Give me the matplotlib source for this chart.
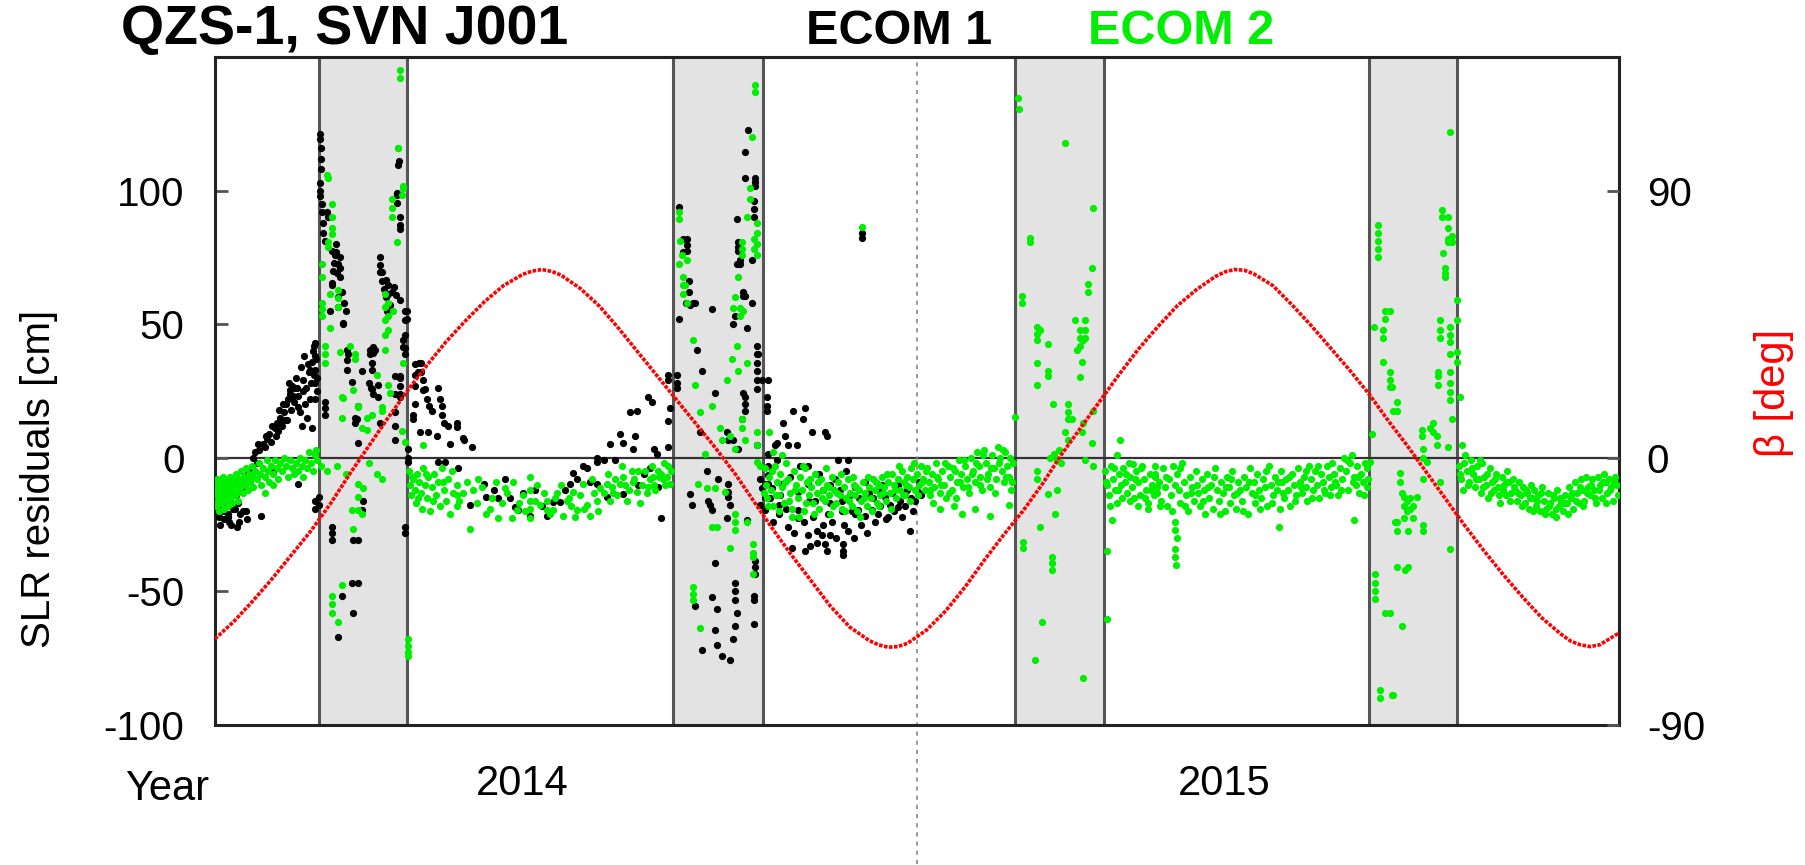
import matplotlib
matplotlib.use("Agg")
import matplotlib.pyplot as plt
import numpy as np

plt.rcParams['font.family'] = ['Liberation Sans', 'DejaVu Sans']

# x axis: days since 2014-01-01
x_range = (0, 730)
year_label_days = [160, 525]
year_labels = ['2014', '2015']
year_boundary_day = 365

left_ticks = [-100, -50, 0, 50, 100]
right_ticks = [-90, 0, 90]

# eclipse seasons (shaded)
eclipse_start = [54, 238, 416, 600]
eclipse_end = [100, 285, 462, 646]

# beta angle (deg)
beta_day = [0, 10, 20, 30, 40, 50, 60, 70, 80, 90, 100, 110, 120, 130, 140, 150, 160, 165, 170, 175,
            180, 190, 200, 210, 220, 230, 240, 250, 260, 270, 280, 290, 300, 310, 320, 330, 340, 345,
            350, 355, 360, 370, 380, 390, 400, 410, 420, 430, 440, 450, 460, 470, 480, 490, 500, 510,
            520, 525, 530, 535, 540, 550, 560, 570, 580, 590, 600, 610, 620, 630, 640, 650, 660, 670,
            680, 690, 700, 705, 710, 715, 720, 730]
beta_deg = [-61, -55, -48, -40.5, -32.5, -24.5, -15.5, -5.5, 4, 13.5, 22.5, 31, 39, 46, 52.5, 58, 61.8,
            62.9, 63.4, 62.8, 61.5, 57, 51, 43.5, 35.5, 27.5, 19.5, 11.5, 3.5, -5, -14.5, -24, -33,
            -41.5, -50, -57, -61.5, -63, -63.8, -63.6, -62.5, -58, -51.5, -43.5, -34.5, -26, -18, -9,
            1, 10, 19, 28, 36.5, 44, 51, 56.5, 61, 62.6, 63.4, 63.2, 62, 58, 51.5, 44.5, 37, 29.5,
            21.5, 12.5, 4, -5, -14, -23, -31.5, -39.5, -47, -54, -59.5, -61.8, -63, -63.6, -63, -59]

# ECOM 1 residuals (cm): (day, residual)
ecom1_seg1 = [(0.5,-10),(1,-14),(1.5,-18),(2,-22),(3,-12),(3.5,-16),(4,-20),(5,-8),(5.5,-13),(6,-18),
              (7,-22),(7.5,-24),(8,-15),(9,-11),(9.5,-19),(10,-9),(11,-14),(12,-17),(13,-21),(14,-12),
              (15,-10),(16,-20),(16.5,-23),(17,-6),(18,-9),(19,-4),(20,0),(21,2),(22,-2),(23,3),
              (24,-21.8),(25,5),(26,4),(27,7),(28,9),(29,6),(30,-5),(31,11),(32,13),(33,10),
              (34,15),(34,13),(35,12),(36,17),(37,20),(37.5,14),(38,22),(39,24),(39,25.5),(39.5,18),(40,27),
              (41,21),(41.5,26),(42,30),(43,-9.7),(43,19),(43,23),(44,17),(45,12),(45.5,25),(46,29),
              (47,20),(48,15),(48.5,35),(49,32),(49.4,33),(50,28),(50.5,11),(51,40),(51.5,42),(52,-16),
              (52,-19),(52.5,37),(52,43),(52,38),(52,33),(52,28),(52,22),(53,30),(53,25),
              (0.8,-20),(2.5,-25),(4.5,-23),(6.5,-21),(8.5,-25),(10.5,-19),(12.5,-24),(14.5,-20),(11.5,-26),
              (22.5,5),(26.5,8),(29.5,12),(31.5,8),(33.5,18),(35.5,20),(36.5,14),(38.5,28),(40.5,23),
              (42.5,26),(44.5,34),(46.5,38),(47.5,26),(49.5,22),(50.5,36),(51.5,31)]
ecom1_ecl1 = [(54.6,119.4),(54.6,121),(54.6,103),(54.6,100),(54.6,98),(54,-14.5),(54,-17.7),
              (55,116),(55,112),(55,108),(55.5,95),(55.5,92),(56,88),(56,84),(57,81),
              (58,92),(58.9,90.3),(60.7,77.4),(62.4,75.8),(63,80),(63,77),(64.1,72.6),(65,75),(65,71),(65,67.7),
              (61.5,70),(62,73),(63.5,69),(66,62),(67,58),(68,55),
              (61,65.5),(60.7,64.5),(64,60),(64,56.5),(59.8,54.8),(66.5,50.6),(66.7,50),(69.3,38.7),
              (68.6,40.4),(68.6,36.5),(68.6,33),(71.1,28.2),(72.8,15),(72.8,13),(73.7,14.5),(74.5,5.6),
              (71.9,-30.6),(74.5,-30.6),(71.1,-46.8),(74.5,-46.8),(71.9,-58.1),(64.1,-67),(65.9,-51.6),
              (60.7,-25.8),(60.7,-28),(60.7,-30.6),(57.2,21),(57.2,18.5),(57.2,16.1),
              (80,28),(81,26),(82,24),(81.6,35.6),(81.6,33),(82,41.6),(82,39.3),(86,13),(87,69.7),
              (86,75),(86,72),(87,66),(88,63),(89,60),(91,57),(93,64),(94,61),
              (85.8,69.4),(89,66.7),(90.1,64.5),(92,62),(90.1,61.3),(96,59),(89.3,54.8),
              (95.3,109.7),(95.7,111),(94.5,98.4),(94.5,95.2),(94.6,99),(96.2,90.3),(96.2,87),(96.2,85.5),
              (93.6,30.6),(93.6,24),(93.6,17),(93.6,12),(93.6,6.5),(96.2,30.6),(96.2,27),(96.2,22.6),
              (96,30),(96,24),(98.8,54.8),(98.8,51.6),(98.8,46),(98.8,41),(98.8,38.7),(98,44),(98,41.6),
              (100,55),(100,52),(98.8,-25.8),(98.8,-28),(100.5,3.2),(100.5,0),(100.5,-1.6),
              (84.9,27.4),(84.9,22.6),(80.6,40.3),(80.6,38.7),(83.2,40.3),(81.5,25.8),(76.3,32.3),
              (77.1,-16.1),(76.3,-19.4),(74.5,19.4)]
ecom1_seg2 = [(104,35),(104,31),(104,27),(105.7,32),(106,35.6),(107.3,35.5),(107.3,32),(108,29),(108,25.5),
              (109,25.8),(110,22),(111.5,19.4),(112.6,17.7),(116,26),(117,22),(118,19.4),(117.8,16),
              (119,12.9),(115.3,8.1),(111,9.7),(106.6,9.7),(103,16),(103,14.5),(104,20),(116,-1.6),
              (119.6,-1.6),(122,5),(121,12),(125.7,12.9),(125.7,11.5),(129,7.3),(129.5,6.5),(133.5,4),
              (126.5,-4),(132.6,-17.7),(140,-9.7),(141,-14.5),(147.3,-15),(150.8,-8),(153.4,-15),
              (156,-18.5),(157.7,-19.4),(163.8,-21.8),(166.4,-12),(172.5,-21.8),(176,-16.5),(179.4,-16.5),
              (182,-12),(184.6,-9.7),(186.3,-5.6),(188,-8),(191.5,-3),(193.3,-4),(198.5,0),(198.5,-1.6),
              (202,-1),(205.4,5),(208,-1),(210.6,9),(212.3,5.6),(215.8,17),(219.3,17.7),(218.4,8),
              (217.5,3.2),(225.3,22.6),(227,21),(228,3.2),(229.6,1.6),(226.2,-4),(230.5,-11),(232,-22.6),
              (235.7,4),(235.7,13.7),(236.6,18.5),(235.7,31),(235.7,29),(203.7,-14.5),(198.5,-9.7),
              (212.3,-13.7),(160,-13),(170,-18),(145,-12),(195,-9),(220,-10),(223,-6)]
ecom1_ecl2 = [(240,31),(240,28),(240,26),(241,52),(241,94),(243.5,82),(243.5,77),(245,58),
              (245.3,82),(245.3,79.5),(245.3,77.4),(246.5,66),(246.5,62),(247,57),(249.6,58),(248.7,58),
              (258.3,55.6),(250.5,40.3),(253.1,32.3),(260,24.2),(252.2,9.7),(266,9.7),(266.9,6.5),
              (255.7,-4.8),(256.5,-16.1),(257.4,-17.7),(258.3,-19.4),(247,-13.7),(247.9,-17.7),
              (261.7,-8.1),(266.9,-9.7),(266.9,-12.9),(266.9,-14.5),(267.8,-17.7),(266,-22.6),
              (276.5,-23.4),(260,-39.5),(249.6,-55.6),(260.9,-56.5),(260,-64.5),(260.9,-70),(253.1,-71.8),
              (263.5,-74.2),(267.8,-75.8),(269.5,-67.7),(270.4,-62.9),(270.4,-46.8),(270.4,-50),
              (270.4,-53.2),(271.3,-58.1),(258.3,-52),(280,-51.6),(280,-53.2),(280,-62.1),(280.8,-38.7),
              (280.8,-41),(280.8,-43.5),(273,74.2),(273,72.6),(274.7,62.1),(274.7,60.5),(275.6,60.5),
              (279.1,58.1),(276.5,48.4),(275.6,104.8),(277.3,122.6),(275.6,114.5),(280.8,104.8),
              (280.8,103.2),(280.8,101.6),(280,96),(280,93),(280,90.3),(279,74.2),(271.3,89.5),
              (272.1,80.6),(272.1,79),(272.1,77.4),(271.3,72.6),(269.5,50),(270.4,53.2),(274.7,24.2),
              (275.6,22.6),(275.6,20),(275.6,17.7),(273.9,14.5),(269.5,6.5),(272.1,3.2),(281.7,41.9),
              (281.7,38.7),(281.7,35.5),(281.7,32.3),(281.7,29),(281.7,25.8),(282.5,38.7),(284.3,29),
              (281.7,4.8),(283.4,-8.1),(284.3,-11.3),(283.4,-17.7)]
ecom1_seg3 = [(287.7,29),(286.9,22.6),(286.9,19.4),(286.9,17.7),(295.5,12.9),(292.1,5.6),(300.7,17.7),
              (306.8,18.5),(305.9,14.5),(310.3,9.7),(317.1,9.7),(318,8.1),(296.4,8.1),(298.1,4.8),
              (302.5,4.8),(291.2,4.8),(287.7,1.6),(287.7,-3.2),(287.7,-6.5),(287.7,-9.7),(286,-9.7),
              (286,-14.5),(286,-19.4),(289.5,-11.3),(293,-17.7),(293,-21),(294.7,-9.7),(299.9,-33.9),
              (298.1,-25.8),(303.3,-12.9),(303.3,-19.4),(303.3,-22.6),(308.5,-3.2),(308.5,-9.7),
              (308.5,-29),(309.4,-33),(312.9,-27.4),(315.5,-29),(317.2,-32.3),(319.8,-29),(318.9,-21),
              (322.4,-8.1),(324.1,-0.8),(325.9,-16.1),(325.9,-20),(326.7,-32.3),(326.7,-34.7),
              (326.7,-36.3),(329.3,-0.8),(329.3,-27.4),(331,-20),(332.8,-21),(334.5,-19.4),(338,-21.8),
              (341.4,-19.4),(344.9,-21),(348.4,-14.5),(351,-17.7),(355.3,-18.5),(358.8,-12.9),
              (361.4,-27.4),(364,-16.1),(365.7,-12.9),(312,-16),(316,-12),(320,-10),(335,-15),
              (340,-13),(345,-12),(350,-22),(355,-10),(360,-12),(336.2,82.3),(336.2,84),
              (288.5,-15),(290,-24),(292,-1),(294,-14),(297,-19),(299,-7),(301,-28),(304,-3),(306,-24),
              (307,-35),(309,-16),(311,-22),(313,-32),(314,-6),(316,-25),(318,-35),(320,-17),(321,-24),
              (323,-30),(325,-12),(327,-25),(328,-5),(330,-14),(332,-30),(333,-11),(336,-25),(338,-9),
              (339,-28),(342,-15),(343,-24),(346,-18),(347,-10),(349,-23),(352,-13),(353,-20),(356,-16),
              (357,-22),(359,-18),(362,-15),(363,-20),(366,-9),(367,-14)]

# ECOM 2 residuals (cm): (day, residual)
ecom2_seg1 = [(0.3,-10),(0.3,-14),(0.5,-18),(1,-8),(1,-12),(1.5,-16),(2,-20),(2,-11),(2.5,-14),(3,-9),
              (3,-17),(3.5,-12),(4,-7),(4,-15),(4.5,-19),(5,-10),(5,-13),(5.5,-16),(6,-8),(6,-11),
              (6.5,-14),(7,-18),(7,-9),(7.5,-12),(8,-15),(8,-7),(8.5,-10),(9,-13),(9,-17),(9.5,-8),
              (10,-11),(10.5,-14),(11,-6),(11,-10),(11.5,-13),(12,-16),(12.5,-8),(13,-11),(13.5,-5),
              (14,-9),(14.5,-13),(15,-7),(15.5,-10),(16,-4),(16.5,-8),(17,-12),(17.5,-6),(18,-9),
              (19,-3),(19.5,-7),(20,-11),(21,-5),(22,-8),(23,-2),(23.5,-6),(24,-10),(25,-4),(26,-7),
              (26,-13),(27,-1),(27.5,-5),(28,-9),(29,-3),(30,-6),(30,-10),(31,-1),(32,-4),(33,-8),
              (34,-2),(35,-5),(36,0),(37,-3),(38,-7),(39,-1),(40,-4),(41,-6),(42,-2),(43,-5),(44,0),
              (45,-3),(46,-7),(47,-1),(48,-4),(49,2),(50,-2),(51,-5),(52,1),(52.5,3),(53,-1)]
ecom2_ecl1 = [(96.2,145),(96.2,142),(95.3,116.1),(95,116),(97.9,101.6),(98,101),(91.9,97),(91.9,93.5),
              (91.9,90.3),(94.5,80.6),(97,98.4),(58.9,104.8),(58,106),(60.7,95),(60.7,90),(60.7,86),
              (60.7,83.9),(58.9,80.6),(58.9,79),(55.5,72.6),(55.5,67.7),(59.8,61.3),(55.5,58.1),
              (55.5,55.6),(55.5,53.2),(59.8,48.4),(64.1,62.9),(64.1,59.7),(64.1,56.5),(57.2,41.9),
              (57.2,38.7),(57.2,35.5),(65,39.5),(70.2,41.9),(72.6,39),(72.6,37),(66.6,22.5),(71.8,25.5),
              (74.4,19),(79,15),(79,10.5),(84,31),(87,19),(65.9,22.6),(65.9,15),(74.5,19.4),(76.3,11.3),
              (81.5,16.1),(86.7,17.7),(88.4,61.3),(88.4,56.5),(88.4,51.6),(88.4,46),(88.4,40.3),
              (90.1,58),(90.1,53),(90.1,48),(92.7,54.8),(90.1,27.4),(91,24.2),(63.3,-3.2),(71.1,-19.4),
              (74.5,-9.7),(74.5,-14.5),(74.5,-19.4),(76.3,-21),(77.1,-11.3),(71.9,-26.6),(60.7,-51.6),
              (60.7,-54.8),(60.7,-58.1),(64.1,-61.3),(65.9,-47.6),(100.5,-68),(100.5,-70.5),
              (100.5,-72.5),(100.5,-74.2),(55,-3),(58,-5),(68,-6),(80,-2),(84,-6),(87,-8),(97,10),
              (99,6),(98,35.6)]
ecom2_seg2 = [(101,-5),(101.5,-10),(102,-14),(103,-8),(104,-12),(104.5,-17),(105,-6),(106,-9),(107,-13),
              (107.5,-19),(108,-4),(108.3,4.8),(109,-10),(110,-15),(111,-7),(112,-20),(113,-11),(114,-6),
              (115,-14),(116,-9),(117,-18),(118,-4),(119,-12),(120,-16),(121,-8),(122,-21),(123,-5),
              (124,-13),(125.7,-10),(125.7,-14),(125.7,-18),(129,-13),(132.6,-26.6),(134.3,-12),
              (141,-21),(147.3,-22.6),(150.8,-11.3),(154.3,-22.6),(156.9,-19.4),(163.8,-7),(163.8,-12),
              (163.8,-16),(163.8,-19),(163.8,-22.6),(166.4,-16.1),(169,-17.7),(172.5,-16),(172.5,-19.4),
              (176,-19.4),(181.2,-21.8),(182.9,-16.1),(186.3,-12.9),(188,-19.4),(191.5,-9.7),
              (193.3,-17.7),(195,-21.8),(198.5,-16.1),(200.2,-11.3),(203.7,-9.7),(205.4,-16.1),
              (208,-8),(210.6,-9.7),(212.3,-7),(214,-16.1),(216.7,-4.8),(219.3,-12.9),(221,-17),
              (223.6,-4.8),(226.2,-8),(227.9,-7),(230.5,-4.8),(233.1,-8),(235.7,-3.2),(236.6,-9.7),
              (137,-8),(144,-15),(160,-14),(178,-13),(185,-18),(197,-13),(207,-13),(218,-8),(225,-11),
              (229,-12),(232,-6),(234,-10),
              (102.5,-7),(105.5,-15),(109.5,-6),(113.5,-16),(118.5,-9),(127,-16),(131,-9),(136,-17),
              (139,-11),(143,-19),(146,-9),(149,-17),(152,-13),(155,-9),(158,-17),(161,-20),(167.5,-10),
              (171,-13),(174,-21),(177,-15),(180,-10),(184,-15),(187,-22),(190,-14),(192,-19),(196,-8),
              (199,-20),(202,-13),(204.5,-6),(206.5,-11),(209,-14),(211.5,-3),(213,-10),(215,-12),
              (217.5,-9),(220,-5),(222,-10),(224.5,-13),(227,-3),(228.5,-10),(231,-7),(233.5,-2),
              (235,-7),(237,-5)]
ecom2_ecl2 = [(241,92),(241,89.5),(241,72.6),(243.5,67.7),(243.5,64.5),(243.5,61.3),(245.3,58),
              (242,81),(243,76),(280.8,139.5),(280.8,137),(279.1,120),(278.2,101),(278.2,97),
              (276.5,90.3),(281.7,88),(281.7,84),(281.7,80),(281.7,76),(280,82),(280,78),(273.9,80.6),
              (273.9,78),(273.9,76),(272.1,67.7),(270.4,60.3),(273,56),(273,53),(274.7,54.8),(269.5,56),
              (268.7,37.1),(272.1,32.3),(276.5,35.5),(271.3,42),(266,29),(249.6,27.4),(248.7,44),
              (244.4,64.5),(245.3,74.2),(252.2,17),(258.3,19.4),(262.6,11.3),(263.5,6.5),(267.8,8.1),
              (270.4,3.2),(273.9,11),(273.9,14.5),(275.6,6.5),(281.7,9.7),(281.7,4.8),(281.7,-1.6),
              (283.4,-3.2),(254.8,1.6),(251.3,-9.7),(255.7,-11.3),(260,-11.3),(258.3,-25.8),
              (260.9,-25.8),(265.2,-12.9),(270.4,-21),(270.4,-24),(270.4,-27),(267.8,-33.9),
              (276.5,-24.2),(279.9,-32.3),(279.9,-35.5),(279.9,-37.1),(279.9,-43.5),(248.7,-48.4),
              (248.7,-51),(248.7,-53.2),(252.2,-63.7)]
ecom2_seg3 = [(286,-4),(286.5,-10),(287,-15),(288,-7),(288,9.7),(289,-12),(290,-18),(290,2),(291,-3),
              (292,-9),(293,-14),(294,-6),(295,-11),(295,1),(296,-17),(297,-2),(298,-8),(299,-13),
              (300,-19),(300,-22),(301,-5),(302,-10),(303,-15),(304,-7),(305,-12),(306,-20),(307,-4),
              (308,-9),(309,-14),(310,-11),(311,-17),(312,-6),(313,-13),(314,-19),(315,-8),(316,-12),
              (317,-16),(318,-10),(319,-14),(320,-21),(321,-7),(322,-12),(323,-17),(324,-9),(325,-14),
              (326,-19),(327,-11),(328,-15),(329,-8),(330,-13),(331,-18),(332,-10),(333,-14),(334,-20),
              (335,-12),(336,-16),(336.2,86.5),(337,-9),(338,-13),(339,-18),(340,-11),(341,-15),(342,-8),
              (343,-12),(344,-17),(345,-10),(346,-14),(347,-7),(348,-11),(349,-16),(350,-9),(351,-13),
              (352,-6),(353,-10),(354,-15),(355,-8),(356,-12),(357,-5),(358,-9),(359,-14),(360,-7),
              (361,-11),(362,-4),(363,-8),(364,-12),(365,-6),(366,-10),(367,-3),(368,-8),(369,-12),
              (370,-4),(371,-9),(372,-14),(373,-6),(374,-11),(375,-2),(376,-8),(377,-13),(377,-19),
              (378,-5),(379,-10),(380,-15),(381,-3),(382,-7),(383,-12),(384,-18),(385,-5),(386,-9),
              (387,-1),(388,-6),(388.3,-21),(389,-11),(390,-3),(391,-8),(392,-13),(393,0),(394,-5),
              (395,-9),(395,-19),(396,2),(397,-3),(398,-7),(399,-12),(400,3),(401,-2),(402,-6),
              (403,-11),(403,-21.8),(404,1),(405,-4),(406,-8),(407,4),(408,0),(409,-5),(410,-9),
              (411,2),(412,-3),(412.6,-17.7),(413,-7),(414,-12),(415,-2),
              (285.5,-13),(287.5,-18),(289.5,-5),(291.5,-14),(293.5,-20),(296.5,-9),(298.5,-16),
              (301.5,-12),(303.5,-22),(305.5,-3),(307.5,-17),(309.5,-8),(311.5,-21),(313.5,-9),
              (315.5,-15),(317.5,-4),(319.5,-11),(321.5,-18),(323.5,-13),(325.5,-6),(327.5,-20),
              (329.5,-16),(331.5,-7),(333.5,-11),(335.5,-22),(337.5,-15),(339.5,-7),(341.5,-20),
              (343.5,-9),(345.5,-18),(347.5,-13),(349.5,-6),(351.5,-19),(353.5,-12),(355.5,-3),
              (357.5,-14),(359.5,-10),(361.5,-16),(363.5,-2),(365.5,-14),(367.5,-9),(369.5,-5),
              (371.5,-12),(373.5,-17),(375.5,-7),(377.5,-10),(379.5,-2),(381.5,-13),(383.5,-4),
              (385.5,-15),(387.5,-9),(389.5,-1),(391.5,-11),(393.5,-6),(395.5,-2),(397.5,-10),
              (399.5,1),(401.5,-8),(403.5,-4),(405.5,-13),(407.5,-2),(409.5,3),(411.5,-7),(413.5,0),
              (414.5,-9)]
ecom2_ecl3 = [(417.7,134.7),(418.2,130.6),(442,117.7),(456.7,93.5),(423.8,82.3),(423.8,80.6),
              (419.5,60.5),(419.5,58),(455.9,71),(454.1,65),(454.1,62),(427.3,49),(427.3,46.5),
              (427.3,44),(429,48),(433.3,42.7),(447.2,51.6),(452.4,51.6),(452.4,48),(452.4,45),
              (449.8,48),(449.8,45),(449.8,42),(451.5,44),(448,40.3),(450.7,36),(449.8,30.2),
              (433.3,32.3),(433.3,30.6),(427.3,35.5),(427.3,27.4),(435.9,20),(443.7,20),(443.7,17),
              (443.7,14.5),(445.5,14.5),(456.7,17.7),(450.7,9.7),(451.5,12.9),(442,9.7),(443.7,6.5),
              (455.9,5.6),(452.4,-0.8),(456.7,-3.2),(415.9,15.3),(427.3,-4.8),(427.3,-8.1),
              (433.3,-13.7),(437.6,-12),(436.8,-21),(429,-25.8),(420.3,-31.5),(420.3,-33.9),
              (435,-37.1),(435,-39.5),(435,-41.9),(429.9,-61.3),(426.4,-75.8),(451.5,-82.3),
              (463.7,-34.7),(463.7,-60.5),(466.3,-23.4),(470.6,6.5),(468.9,1),(434,0),(436,1.5),
              (438,-1),(439,3),(440,-2)]
ecom2_seg4 = [(463,-5),(464,-10),(465,-14),(466,-3),(467,-8),(468,-12),(469,-17),(470,-6),(471,-10),
              (472,-4),(473,-9),(474,-13),(475,-2),(476,-7),(477,-11),(477.5,-2.4),(478,-15),(479,-5),
              (480,-9),(480,-18),(481,-14),(482,-3),(483,-8),(484,-12),(485,-17),(485,-19),(486,-6),
              (487,-10),(488,-14),(489,-7),(490,-11),(489,-6),(490,-13),(491,-9),(492,-16),(493,-4),
              (494,-11),(495,-18),(496,-8),(497,-14),(498,-3),(499,-10),(499.3,-24),(499.3,-27),
              (500,-30),(499,-34),(499,-37),(499.5,-40),(500,-6),(501,-12),(502,-17),(503,-2),(504,-9),
              (505,-14),(506,-20),(507,-7),(508,-11),(509,-16),(510,-5),(511,-13),(512,-18),(513,-8),
              (514,-12),(515,-21),(516,-6),(517,-15),(518,-10),(519,-19),(520,-4),(521,-12),(522,-16),
              (523,-9),(524,-13),(525,-20),(526,-7),(527,-11),(528,-17),(529,-5),(530,-14),(531,-19),
              (532,-9),(533,-12),(534,-16),(535,-7),(536,-11),(537,-21),(538,-4),(539,-13),(540,-9),
              (541,-17),(542,-6),(543,-12),(544,-15),(545,-8),(546,-11),(547,-18),(548,-3),(549,-10),
              (550,-14),(551,-7),(552,-12),(553,-26),(553.5,-19),(554,-5),(555,-9),(556,-15),(557,-8),
              (558,-12),(559,-18),(560,-6),(561,-10),(562,-14),(563,-4),(564,-9),(565,-13),(566,-7),
              (567,-11),(568,-16),(569,-3),(570,-8),(571,-12),(572,-5),(573,-10),(574,-15),(575,-6),
              (576,-9),(577,-13),(578,-3),(579,-7),(580,-11),(581,-2),(582,-6),(583,-10),(584,-14),
              (585,-4),(586,-8),(587,0),(588,-5),(589,-12),(590,-2),(591,1),(592,-23.4),(592,-7),
              (593,-10),(594,-3),(595,-13),(596,-6),(597,-9),(598,-2),(599,-11),
              (463.5,-9),(465.5,-18),(467.5,-4),(469.5,-12),(471.5,-15),(473.5,-6),(475.5,-16),
              (478.5,-8),(481.5,-4),(483.5,-15),(486.5,-12),(488.5,-3),(491.5,-18),(494.5,-7),
              (497.5,-20),(501.5,-4),(504.5,-18),(507.5,-13),(510.5,-10),(513.5,-16),(516.5,-11),
              (519.5,-7),(522.5,-21),(525.5,-11),(528.5,-8),(531.5,-13),(534.5,-20),(537.5,-9),
              (540.5,-14),(543.5,-19),(546.5,-5),(549.5,-17),(552.5,-9),(555.5,-13),(558.5,-7),
              (561.5,-16),(564.5,-11),(567.5,-5),(570.5,-15),(573.5,-3),(576.5,-12),(579.5,-14),
              (582.5,-9),(585.5,-12),(588.5,-1),(591.5,-9),(594.5,-7),(597.5,-14),(599,-4)]
ecom2_ecl4 = [(604.6,87),(604.6,84),(604.6,81),(604.6,78),(604.6,75),(608.4,55),(608.4,52),(607.5,48),
              (607.5,45),(602.4,49),(607.5,36),(611,32),(611,29),(611,26.6),(612.7,17.7),(601.5,9),
              (600.6,-1.6),(599.7,-8),(613.5,-24),(603.2,-43.5),(603.2,-47),(603.2,-50),(603.2,-53),
              (608.4,-58),(605.8,-87),(605.8,-90),(611.9,-88.7),(642.2,121.8),(637.9,92.7),(637.9,90),
              (641.3,90),(641.3,86),(641.3,82),(641.3,80.6),(643.1,83),(643.1,80.6),(638.7,76.6),
              (639.6,71),(639.6,69),(639.6,67.7),(645.7,58.9),(645.7,51.6),(637,51.6),(637,48),(637,45),
              (642.2,49),(642.2,46),(642.2,43.5),(642.2,38.7),(645.7,39.5),(645.7,36),(642.2,32),
              (642.2,28),(642.2,24.5),(642.2,21.8),(643.1,14.5),(636.1,32),(636.1,30.6),(636.1,27.4),
              (633.5,12.9),(633.5,9.7),(631.8,11.3),(635.3,8.1),(635.3,4.8),(627.5,10.5),(627.5,8.1),
              (628.3,3.2),(628.3,0),(630.1,-1.6),(641.3,4),(647.4,22.6),(648.3,4.8),(611,54.8),
              (611.9,26.6),(614.5,21),(614.5,17.7),(616.2,-5.6),(616.2,-8.9),(617.1,-13),(618,-14.5),
              (618,-18),(618,-22.6),(619.7,-16),(619.7,-20),(621.4,-15),(621.4,-19),(623.1,-18),
              (623.1,-22.6),(624.9,-14.5),(620.5,-27.4),(628.3,-25),(628.3,-27.4),(614.5,-24.2),
              (614.5,-27.4),(628.3,-8),(637,-8.9),(642.2,-34),(614.5,-41),(618.8,-42),(620.5,-41),
              (617.1,-62.9),(612.7,-88.7),(611,-58)]
ecom2_seg5 = [(647,-3),(648,-8),(649,-12),(650,1),(651,-5),(652,-9),(653,-1),(654,-6),(655,-11),(656,-3),
              (657,-8),(658,-13),(659,-2),(660,-7),(661,-10),(662,-15),(663,-4),(664,-9),(665,-12),
              (666,-6),(667,-11),(668,-17),(669,-7),(670,-10),(671,-14),(672,-5),(673,-9),(674,-13),
              (675,-8),(676,-12),(677,-16),(678,-9),(679,-14),(680,-11),(681,-17),(682,-13),(683,-19),
              (684,-10),(685,-15),(686,-12),(687,-18),(688,-14),(689,-20),(690,-11),(691,-16),(692,-19),
              (693,-13),(694,-17),(695,-21),(696,-15),(697,-19),(698,-12),(699,-18),(700,-16),(701,-20),
              (702,-14),(703,-17),(704,-11),(705,-15),(706,-19),(707,-9),(708,-13),(709,-17),(710,-8),
              (711,-12),(712,-16),(713,-7),(714,-11),(715,-14),(716,-8),(717,-12),(718,-17),(719,-7),
              (720,-10),(721,-15),(722,-6),(723,-9),(724,-13),(725,-8),(726,-11),(727,-16),(728,-7),
              (729,-10),
              (647.5,-6),(649.5,-2),(651.5,-10),(653.5,-4),(655.5,-8),(657.5,-1),(659.5,-11),(661.5,-6),
              (663.5,-13),(665.5,-8),(667.5,-14),(669.5,-12),(671.5,-9),(673.5,-16),(675.5,-11),
              (677.5,-13),(679.5,-18),(681.5,-12),(683.5,-15),(685.5,-20),(687.5,-16),(689.5,-13),
              (691.5,-21),(693.5,-18),(695.5,-14),(697.5,-22),(699.5,-15),(701.5,-17),(703.5,-21),
              (705.5,-13),(707.5,-16),(709.5,-11),(711.5,-18),(713.5,-13),(715.5,-10),(717.5,-15),
              (719.5,-12),(721.5,-9),(723.5,-17),(725.5,-12),(727.5,-9),(729.5,-14)]

ecom1 = np.array(ecom1_seg1 + ecom1_ecl1 + ecom1_seg2 + ecom1_ecl2 + ecom1_seg3)
ecom2 = np.array(ecom2_seg1 + ecom2_ecl1 + ecom2_seg2 + ecom2_ecl2 + ecom2_seg3 + ecom2_ecl3
                 + ecom2_seg4 + ecom2_ecl4 + ecom2_seg5)

GREEN = '#00ee00'
W, H = 1806, 865
fig = plt.figure(figsize=(W / 100, H / 100), dpi=100)
L, R, T, B = 215, 1619, 57, 725
ax = fig.add_axes([L / W, 1 - B / H, (R - L) / W, (B - T) / H])

ax.set_xlim(*x_range)
ax.set_ylim(-100, 150)

for s, e in zip(eclipse_start, eclipse_end):
    ax.axvspan(s, e, facecolor='#e3e3e3', edgecolor='none', zorder=0)
    ax.axvline(s, color='#555555', lw=2.2, zorder=1)
    ax.axvline(e, color='#555555', lw=2.2, zorder=1)

ax.axhline(0, color='#333333', lw=1.6, zorder=1)
ax.plot([year_boundary_day, year_boundary_day], [-152, 150], color='#888888',
        lw=1.2, ls=(0, (2.5, 3)), clip_on=False, zorder=1)

ax.scatter(ecom1[:, 0], ecom1[:, 1], s=27, c='black', linewidths=0, zorder=3)
ax.scatter(ecom2[:, 0], ecom2[:, 1], s=27, c=GREEN, linewidths=0, zorder=4)

ax.set_yticks(left_ticks)
ax.set_yticklabels([str(t) for t in left_ticks])
ax.set_xticks(year_label_days)
ax.set_xticklabels(year_labels)
ax.tick_params(axis='x', length=0, pad=28, labelsize=30)
ax.tick_params(axis='y', direction='in', length=9, width=2, color='#555555', pad=22, labelsize=29)
for sp in ax.spines.values():
    sp.set_linewidth(2.2)
    sp.set_color('#222222')

ax2 = ax.twinx()
ax2.set_ylim(-90, 135)
ax2.set_yticks(right_ticks)
ax2.set_yticklabels([str(t) for t in right_ticks])
ax2.tick_params(axis='y', direction='in', length=9, width=2, color='#555555', pad=20, labelsize=29)
ax2.plot(beta_day, beta_deg, color='#ff0000', lw=2.6, ls=(0, (1.0, 0.4)), zorder=5)
for sp in ax2.spines.values():
    sp.set_visible(False)

fig.text(39 / W, 1 - 479 / H, 'SLR residuals [cm]', rotation=90, ha='center', va='center', fontsize=29)
fig.text(1774 / W, 1 - 393 / H, 'β [deg]', rotation=90, ha='center', va='center', fontsize=30, color='#ff0000')
fig.text(167 / W, 1 - 789 / H, 'Year', ha='center', va='center', fontsize=30)

fig.text(121 / W, 1 - 44 / H, 'QZS-1, SVN J001', ha='left', va='baseline', fontsize=40, fontweight='bold')
fig.text(806 / W, 1 - 44 / H, 'ECOM 1', ha='left', va='baseline', fontsize=35, fontweight='bold')
fig.text(1088 / W, 1 - 44 / H, 'ECOM 2', ha='left', va='baseline', fontsize=35, fontweight='bold', color=GREEN)

fig.savefig('out.png', dpi=100)
